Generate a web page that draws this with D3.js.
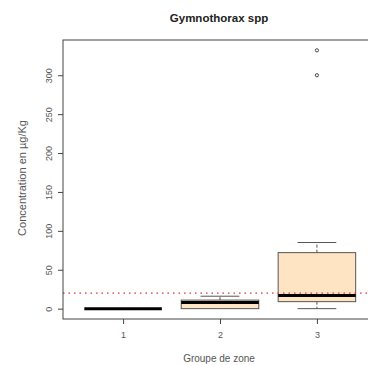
<!DOCTYPE html>
<html>
<head>
<meta charset="utf-8">
<script src="https://cdn.jsdelivr.net/npm/d3@7"></script>
<style>
  html, body { margin: 0; padding: 0; background: #fff; }
  svg text { font-family: "Liberation Sans", Arial, sans-serif; }
</style>
</head>
<body>
<svg id="chart" width="368" height="365"></svg>
<script>
// Zone groups
const groups = ["1", "2", "3"];
// Box statistics per group (µg/Kg)
const lowerWhisker = [0, 0, 0];
const q1 = [0, 0, 9];
const medians = [0, 8, 17];
const q3 = [0, 11, 72];
const upperWhisker = [0, 16, 85];
// Outlying values per group
const outliers = [[], [], [300, 332]];
// Reference threshold
const threshold = 20;
// Axis tick labels
const yTicks = [0, 50, 100, 150, 200, 250, 300];

const svg = d3.select("#chart");
const plotLeft = 63, plotTop = 40, plotBottom = 319, plotRight = 377;

// R-style extended domains
const x = d3.scaleLinear().domain([0.38, 3.62]).range([plotLeft, plotRight]);
const y = d3.scaleLinear().domain([-13.3, 345.3]).range([plotBottom, plotTop]);

const boxHalf = x(1.4) - x(1);
const capHalf = boxHalf / 2;
const axisColor = "#444";
const textColor = "#555";

// Title
svg.append("text")
  .attr("x", 219).attr("y", 22)
  .attr("text-anchor", "middle")
  .attr("font-size", 11.5).attr("font-weight", "bold")
  .attr("fill", "#222")
  .text("Gymnothorax spp");

// Boxes
const g = svg.append("g");
groups.forEach((name, i) => {
  const cx = x(i + 1);
  // whiskers (dashed)
  g.append("line")
    .attr("x1", cx).attr("x2", cx)
    .attr("y1", y(q3[i])).attr("y2", y(upperWhisker[i]))
    .attr("stroke", "#555").attr("stroke-width", 1).attr("stroke-dasharray", "3,2");
  g.append("line")
    .attr("x1", cx).attr("x2", cx)
    .attr("y1", y(q1[i])).attr("y2", y(lowerWhisker[i]))
    .attr("stroke", "#555").attr("stroke-width", 1).attr("stroke-dasharray", "3,2");
  // caps
  if (upperWhisker[i] !== q3[i]) {
    g.append("line")
      .attr("x1", cx - capHalf).attr("x2", cx + capHalf)
      .attr("y1", y(upperWhisker[i])).attr("y2", y(upperWhisker[i]))
      .attr("stroke", "#555").attr("stroke-width", 1);
  }
  if (lowerWhisker[i] !== q1[i]) {
    g.append("line")
      .attr("x1", cx - capHalf).attr("x2", cx + capHalf)
      .attr("y1", y(lowerWhisker[i])).attr("y2", y(lowerWhisker[i]))
      .attr("stroke", "#555").attr("stroke-width", 1);
  }
  // box
  if (q3[i] > q1[i]) {
    g.append("rect")
      .attr("x", cx - boxHalf).attr("width", 2 * boxHalf)
      .attr("y", y(q3[i])).attr("height", y(q1[i]) - y(q3[i]))
      .attr("fill", "#FFE4C4").attr("stroke", "#555").attr("stroke-width", 1);
  }
  // median
  g.append("line")
    .attr("x1", cx - boxHalf).attr("x2", cx + boxHalf)
    .attr("y1", y(medians[i])).attr("y2", y(medians[i]))
    .attr("stroke", "#000").attr("stroke-width", 3);
  // outliers
  outliers[i].forEach(v => {
    g.append("circle")
      .attr("cx", cx).attr("cy", y(v)).attr("r", 1.6)
      .attr("fill", "none").attr("stroke", "#333").attr("stroke-width", 0.9);
  });
});

// Threshold line
svg.append("line")
  .attr("x1", plotLeft).attr("x2", 368)
  .attr("y1", y(threshold)).attr("y2", y(threshold))
  .attr("stroke", "#d33").attr("stroke-width", 1.3).attr("stroke-dasharray", "1.5,4");

// Frame
svg.append("rect")
  .attr("x", plotLeft).attr("y", plotTop)
  .attr("width", plotRight - plotLeft).attr("height", plotBottom - plotTop)
  .attr("fill", "none").attr("stroke", axisColor).attr("stroke-width", 1);

// Y axis
const yAxis = svg.append("g")
  .attr("transform", `translate(${plotLeft},0)`)
  .call(d3.axisLeft(y).tickValues(yTicks).tickSize(5).tickPadding(0).tickFormat(d3.format("d")));
yAxis.select(".domain").remove();
yAxis.selectAll("line").attr("stroke", axisColor);
yAxis.selectAll("text")
  .attr("font-size", 9).attr("fill", textColor)
  .attr("text-anchor", "middle")
  .attr("x", 0).attr("y", 0).attr("dy", "0.35em")
  .attr("transform", "translate(-14,0) rotate(-90)");

// X axis
const xAxis = svg.append("g")
  .attr("transform", `translate(0,${plotBottom})`)
  .call(d3.axisBottom(x).tickValues([1, 2, 3]).tickSize(5).tickPadding(8).tickFormat((d, i) => groups[i]));
xAxis.select(".domain").remove();
xAxis.selectAll("line").attr("stroke", axisColor);
xAxis.selectAll("text").attr("font-size", 9).attr("fill", textColor);

// Axis titles
svg.append("text")
  .attr("x", 219).attr("y", 362)
  .attr("text-anchor", "middle")
  .attr("font-size", 10).attr("fill", textColor)
  .text("Groupe de zone");

svg.append("text")
  .attr("transform", `translate(26,178) rotate(-90)`)
  .attr("text-anchor", "middle")
  .attr("font-size", 11).attr("fill", textColor)
  .text("Concentration en µg/Kg");
</script>
</body>
</html>
